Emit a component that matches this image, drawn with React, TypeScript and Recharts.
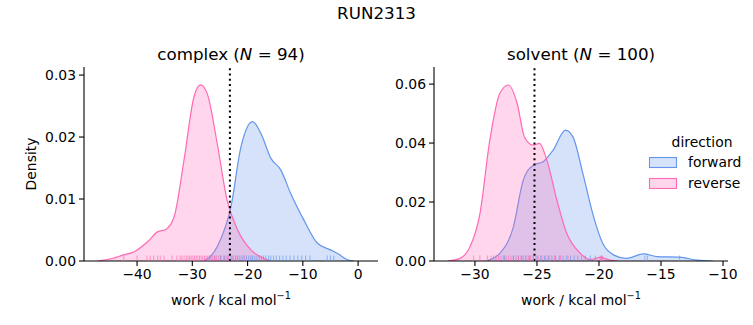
import React from 'react';
import { ComposedChart, Area, Scatter, XAxis, YAxis, ReferenceLine } from 'recharts';

const FWD = '#6495ED';
const REV = '#FF69B4';
const FONT = '"DejaVu Sans", sans-serif';

// KDE curves (work value, density)
const complexRevX = [-47.2, -44.5, -42.4, -40.5, -38.1, -36.3, -34.8, -33.3, -31.5, -29.7, -28.5, -27.3, -25.5, -23.7, -21.8, -19.4, -17.0, -15.8];
const complexRevD = [0, 0.0004, 0.001, 0.0015, 0.0031, 0.0047, 0.0051, 0.0071, 0.0163, 0.0265, 0.0284, 0.027, 0.019, 0.0098, 0.005, 0.0018, 0.0004, 0];
const complexFwdX = [-27.9, -25.5, -23.0, -21.2, -19.1, -17.6, -15.8, -14.0, -12.2, -9.8, -7.4, -5.0, -3.7, -1.9, -0.7];
const complexFwdD = [0, 0.0023, 0.0088, 0.0184, 0.0225, 0.0206, 0.0166, 0.0147, 0.0109, 0.0066, 0.0029, 0.0018, 0.0012, 0.0002, 0];
const solventRevX = [-32.2, -31.2, -30.4, -29.6, -28.8, -28.0, -27.3, -26.6, -26.0, -25.3, -24.8, -24.2, -23.4, -22.6, -21.5, -20.7, -19.9, -19.1, -18.5];
const solventRevD = [0, 0.0009, 0.0048, 0.016, 0.041, 0.0568, 0.0597, 0.0535, 0.042, 0.0393, 0.0399, 0.0342, 0.0207, 0.0094, 0.0026, 0.0005, 0.0012, 0.0003, 0];
const solventFwdX = [-29.1, -28.0, -26.9, -26.1, -25.3, -24.5, -23.7, -22.7, -22.1, -21.3, -20.5, -19.7, -18.8, -17.8, -16.4, -15.3, -13.5, -12.1, -10.8];
const solventFwdD = [0, 0.0026, 0.0116, 0.0275, 0.0325, 0.0337, 0.0376, 0.0444, 0.0421, 0.0297, 0.016, 0.006, 0.002, 0.0009, 0.0024, 0.0015, 0.0013, 0.0003, 0];

// Rug samples
const complexRevRug = [-42.4, -40.0, -38.2, -37.6, -37.0, -36.3, -35.8, -35.1, -33.7, -32.8, -32.2, -31.9, -31.5, -31.1, -30.8, -30.5, -30.2, -29.9, -29.6, -29.3, -29.0, -28.7, -28.4, -28.1, -27.8, -27.5, -27.2, -26.9, -26.6, -26.3, -26.0, -25.6, -25.2, -24.8, -24.3, -23.9, -23.4, -22.8, -21.9, -20.6];
const complexFwdRug = [-26.8, -25.9, -24.9, -24.2, -23.6, -23.0, -22.6, -22.2, -21.8, -21.4, -21.0, -20.6, -20.2, -19.8, -19.4, -19.1, -18.7, -18.3, -17.9, -17.5, -17.1, -16.7, -16.2, -15.8, -15.3, -14.8, -14.2, -13.6, -13.0, -12.3, -11.6, -10.9, -10.2, -9.5, -8.7, -5.6, -5.0, -4.4];
const solventRevRug = [-30.1, -29.6, -29.0, -28.7, -28.5, -28.3, -28.1, -27.9, -27.7, -27.5, -27.3, -27.1, -26.9, -26.7, -26.5, -26.3, -26.1, -25.9, -25.7, -25.5, -25.3, -25.1, -24.9, -24.6, -24.3, -24.0, -23.6, -23.1, -22.5, -19.9, -19.7];
const solventFwdRug = [-27.6, -26.9, -26.5, -26.2, -25.9, -25.6, -25.3, -25.0, -24.7, -24.4, -24.1, -23.8, -23.5, -23.2, -22.9, -22.6, -22.3, -22.0, -21.7, -21.4, -21.1, -20.7, -20.3, -19.8, -16.3, -16.1, -13.5];

// Axes
const complexXTicks = [-40, -30, -20, -10, 0];
const complexYTicks = [0, 0.01, 0.02, 0.03];
const solventXTicks = [-30, -25, -20, -15, -10];
const solventYTicks = [0, 0.02, 0.04, 0.06];
const complexMean = -23.2;
const solventMean = -25.2;

const toPts = (xs: number[], ds: number[]) => xs.map((x, i) => ({ x, d: ds[i] }));
const toRug = (xs: number[]) => xs.map((x) => ({ x, d: 0 }));

const minus = (s: string) => s.replace(/-/g, '\u2212');

const tickStyle = { fontSize: 13.9, fill: '#000', fontFamily: FONT };

const rugShape = (color: string) => (p: any) => (
  <line x1={p.cx} x2={p.cx} y1={p.cy - 5.5} y2={p.cy} stroke={color} strokeWidth={1} strokeOpacity={0.65} />
);

type PanelProps = {
  left: number;
  width: number;
  marginLeft: number;
  marginRight: number;
  xDomain: [number, number];
  yDomain: [number, number];
  xTicks: number[];
  yTicks: number[];
  fwd: { x: number; d: number }[];
  rev: { x: number; d: number }[];
  fwdRug: { x: number; d: number }[];
  revRug: { x: number; d: number }[];
  mean: number;
};

function Panel(props: PanelProps) {
  return (
    <div style={{ position: 'absolute', left: props.left, top: 0 }}>
      <ComposedChart
        width={props.width}
        height={325}
        margin={{ top: 67, right: props.marginRight, bottom: 34, left: props.marginLeft }}
        style={{ overflow: 'visible' }}
      >
        <XAxis
          dataKey="x"
          type="number"
          domain={props.xDomain}
          ticks={props.xTicks}
          allowDataOverflow
          height={30}
          tickSize={5}
          tickMargin={3}
          tick={tickStyle}
          axisLine={{ stroke: '#000', strokeWidth: 1.1 }}
          tickLine={{ stroke: '#000', strokeWidth: 1.1 }}
          tickFormatter={(v: number) => minus(String(v))}
        />
        <YAxis
          type="number"
          domain={props.yDomain}
          ticks={props.yTicks}
          allowDataOverflow
          width={54}
          tickSize={5}
          tickMargin={3}
          tick={tickStyle}
          axisLine={{ stroke: '#000', strokeWidth: 1.1 }}
          tickLine={{ stroke: '#000', strokeWidth: 1.1 }}
          tickFormatter={(v: number) => v.toFixed(2)}
        />
        <Area
          data={props.fwd}
          dataKey="d"
          type="monotone"
          stroke={FWD}
          strokeWidth={1.2}
          fill={FWD}
          fillOpacity={0.27}
          baseValue={0}
          isAnimationActive={false}
          dot={false}
          activeDot={false}
        />
        <Area
          data={props.rev}
          dataKey="d"
          type="monotone"
          stroke={REV}
          strokeWidth={1.2}
          fill={REV}
          fillOpacity={0.27}
          baseValue={0}
          isAnimationActive={false}
          dot={false}
          activeDot={false}
        />
        <Scatter data={props.fwdRug} dataKey="d" shape={rugShape(FWD)} isAnimationActive={false} />
        <Scatter data={props.revRug} dataKey="d" shape={rugShape(REV)} isAnimationActive={false} />
        <ReferenceLine x={props.mean} stroke="#000" strokeWidth={2} strokeDasharray="2 3.3" />
      </ComposedChart>
    </div>
  );
}

function XLabel({ cx }: { cx: number }) {
  return (
    <text x={cx} y={305} textAnchor="middle" fontSize={13.9} fontFamily={FONT}>
      work / kcal mol
      <tspan fontSize={9.7} dy={-6}>{'\u22121'}</tspan>
    </text>
  );
}

export default function App() {
  return (
    <div style={{ position: 'fixed', left: 0, top: 0, width: 753, height: 325, background: '#fff' }}>
      <Panel
        left={0}
        width={380}
        marginLeft={30}
        marginRight={2}
        xDomain={[-49.6, 3.6]}
        yDomain={[0, 0.0313]}
        xTicks={complexXTicks}
        yTicks={complexYTicks}
        fwd={toPts(complexFwdX, complexFwdD)}
        rev={toPts(complexRevX, complexRevD)}
        fwdRug={toRug(complexFwdRug)}
        revRug={toRug(complexRevRug)}
        mean={complexMean}
      />
      <Panel
        left={380}
        width={370}
        marginLeft={0}
        marginRight={22}
        xDomain={[-33.3, -9.6]}
        yDomain={[0, 0.0658]}
        xTicks={solventXTicks}
        yTicks={solventYTicks}
        fwd={toPts(solventFwdX, solventFwdD)}
        rev={toPts(solventRevX, solventRevD)}
        fwdRug={toRug(solventFwdRug)}
        revRug={toRug(solventRevRug)}
        mean={solventMean}
      />
      <svg
        width={753}
        height={325}
        style={{ position: 'absolute', left: 0, top: 0, pointerEvents: 'none' }}
        fontFamily={FONT}
      >
        <text x={376.5} y={19} textAnchor="middle" fontSize={16.7}>RUN2313</text>
        <text x={231} y={60} textAnchor="middle" fontSize={16.7}>
          complex (<tspan fontStyle="italic">N</tspan> = 94)
        </text>
        <text x={581} y={60} textAnchor="middle" fontSize={16.7}>
          solvent (<tspan fontStyle="italic">N</tspan> = 100)
        </text>
        <XLabel cx={231} />
        <XLabel cx={581} />
        <text x={36} y={164} textAnchor="middle" fontSize={13.9} transform="rotate(-90 36 164)">Density</text>
        <text x={702} y={147} textAnchor="middle" fontSize={13.9}>direction</text>
        <rect x={649.5} y={157.5} width={27} height={10} fill={FWD} fillOpacity={0.27} stroke={FWD} strokeWidth={1.1} />
        <text x={688} y={167} fontSize={13.9}>forward</text>
        <rect x={649.5} y={178.5} width={27} height={10} fill={REV} fillOpacity={0.27} stroke={REV} strokeWidth={1.1} />
        <text x={688} y={188} fontSize={13.9}>reverse</text>
      </svg>
    </div>
  );
}
